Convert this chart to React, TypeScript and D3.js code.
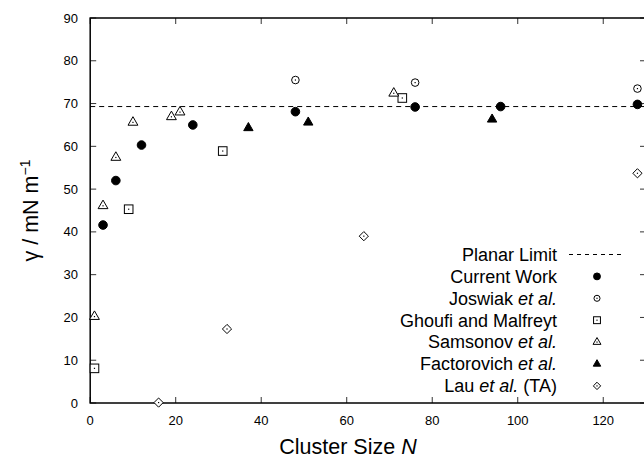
import React from 'react';
import * as d3 from 'd3';

// series: cluster size N and surface tension gamma
const currentN = [3, 6, 12, 24, 48, 76, 96, 128];
const currentG = [41.6, 52.0, 60.3, 65.0, 68.1, 69.2, 69.3, 69.8];
const joswiakN = [48, 76, 128];
const joswiakG = [75.5, 74.9, 73.5];
const ghoufiN = [1, 9, 31, 73];
const ghoufiG = [8.1, 45.3, 58.9, 71.3];
const samsonovN = [1, 3, 6, 10, 19, 21, 71];
const samsonovG = [20.2, 46.1, 57.4, 65.6, 66.9, 68.0, 72.4];
const factorovichN = [37, 51, 94];
const factorovichG = [64.3, 65.6, 66.3];
const lauN = [16, 32, 64, 128];
const lauG = [0.1, 17.3, 39.0, 53.7];
const planarLimit = 69.3;

const xTicks = [0, 20, 40, 60, 80, 100, 120];
const yTicks = [0, 10, 20, 30, 40, 50, 60, 70, 80, 90];

const series = [
  { name: 'Current Work', italic: '', suffix: '', N: currentN, G: currentG, shape: 'circle', filled: true },
  { name: 'Joswiak ', italic: 'et al.', suffix: '', N: joswiakN, G: joswiakG, shape: 'circle', filled: false },
  { name: 'Ghoufi and Malfreyt', italic: '', suffix: '', N: ghoufiN, G: ghoufiG, shape: 'square', filled: false },
  { name: 'Samsonov ', italic: 'et al.', suffix: '', N: samsonovN, G: samsonovG, shape: 'triangle', filled: false },
  { name: 'Factorovich ', italic: 'et al.', suffix: '', N: factorovichN, G: factorovichG, shape: 'triangle', filled: true },
  { name: 'Lau ', italic: 'et al.', suffix: ' (TA)', N: lauN, G: lauG, shape: 'diamond', filled: false },
];

const W = 644;
const H = 458;
const left = 90.2;
const right = 646;
const top = 18;
const bottom = 403;
const font = 'Liberation Sans, Arial, Helvetica, sans-serif';

function Marker({ x, y, shape, filled, k = 1 }) {
  const stroke = '#000';
  const fill = filled ? '#000' : '#fff';
  let el;
  if (shape === 'circle') {
    el = <circle cx={x} cy={y} r={(filled ? 4.3 : 3.8) * k} fill={fill} stroke={stroke} strokeWidth={1} />;
  } else if (shape === 'square') {
    const h = 4.3 * k;
    el = <rect x={x - h} y={y - h} width={2 * h} height={2 * h} fill={fill} stroke={stroke} strokeWidth={1} />;
  } else if (shape === 'triangle') {
    const p = d3.symbol().type(d3.symbolTriangle).size((filled ? 38 : 42) * k * k)();
    el = <path d={p} transform={`translate(${x},${y})`} fill={fill} stroke={stroke} strokeWidth={1} />;
  } else {
    const r = 4.6 * k;
    el = <path d={`M${x},${y - r}L${x + r},${y}L${x},${y + r}L${x - r},${y}Z`} fill={fill} stroke={stroke} strokeWidth={1} />;
  }
  return (
    <g>
      {el}
      {!filled && <rect x={x - 0.6} y={y - 0.6} width={1.2} height={1.2} fill="#000" />}
    </g>
  );
}

export default function App() {
  const x = d3.scaleLinear().domain([0, 130]).range([left, right]);
  const y = d3.scaleLinear().domain([0, 90]).range([bottom, top]);
  const tickLen = 6;

  const legendX = 557;
  const legendMarkX = 597;
  const legendY0 = 254.5;
  const legendStep = 21.9;

  return (
    <div style={{ position: 'absolute', left: 0, top: 0 }}>
      <svg width={W} height={H} style={{ display: 'block', background: '#fff' }} fontFamily={font}>
        {/* planar limit */}
        <line x1={left} x2={right} y1={y(planarLimit)} y2={y(planarLimit)} stroke="#000" strokeWidth={1} strokeDasharray="5,4" />

        {/* ticks */}
        {xTicks.map(t => (
          <g key={'x' + t}>
            <line x1={x(t)} x2={x(t)} y1={bottom} y2={bottom - tickLen} stroke="#333" strokeWidth={1} />
            <line x1={x(t)} x2={x(t)} y1={top} y2={top + tickLen} stroke="#333" strokeWidth={1} />
            <text x={x(t)} y={425} textAnchor="middle" fontSize={13}>{t}</text>
          </g>
        ))}
        {yTicks.map(t => (
          <g key={'y' + t}>
            <line x1={left} x2={left + tickLen} y1={y(t)} y2={y(t)} stroke="#333" strokeWidth={1} />
            <line x1={right} x2={right - tickLen} y1={y(t)} y2={y(t)} stroke="#333" strokeWidth={1} />
            <text x={78} y={y(t)} dy="0.35em" textAnchor="end" fontSize={13}>{t}</text>
          </g>
        ))}

        {/* frame */}
        <rect x={left} y={top} width={right - left} height={bottom - top} fill="none" stroke="#000" strokeWidth={1.5} />

        {/* data */}
        {series.map(s => (
          <g key={s.name}>
            {s.N.map((n, i) => (
              <Marker key={i} x={x(n)} y={y(s.G[i])} shape={s.shape} filled={s.filled} />
            ))}
          </g>
        ))}

        {/* legend */}
        <text x={legendX} y={legendY0} dy="0.35em" textAnchor="end" fontSize={18}>Planar Limit</text>
        <line x1={569} x2={621} y1={legendY0} y2={legendY0} stroke="#000" strokeWidth={1} strokeDasharray="4,4" />
        {series.map((s, i) => {
          const ly = legendY0 + (i + 1) * legendStep;
          return (
            <g key={'l' + s.name}>
              <text x={legendX} y={ly} dy="0.35em" textAnchor="end" fontSize={18}>
                {s.name}
                {s.italic && <tspan fontStyle="italic">{s.italic}</tspan>}
                {s.suffix}
              </text>
              <Marker x={legendMarkX} y={ly} shape={s.shape} filled={s.filled} k={0.8} />
            </g>
          );
        })}

        {/* axis titles */}
        <text x={348} y={454} textAnchor="middle" fontSize={21.5}>
          Cluster Size <tspan fontStyle="italic">N</tspan>
        </text>
        <text transform={`translate(38,${(top + bottom) / 2}) rotate(-90)`} textAnchor="middle" fontSize={21.5}>
          γ / mN m<tspan dy="-8" fontSize={14}>−1</tspan>
        </text>
      </svg>
    </div>
  );
}
